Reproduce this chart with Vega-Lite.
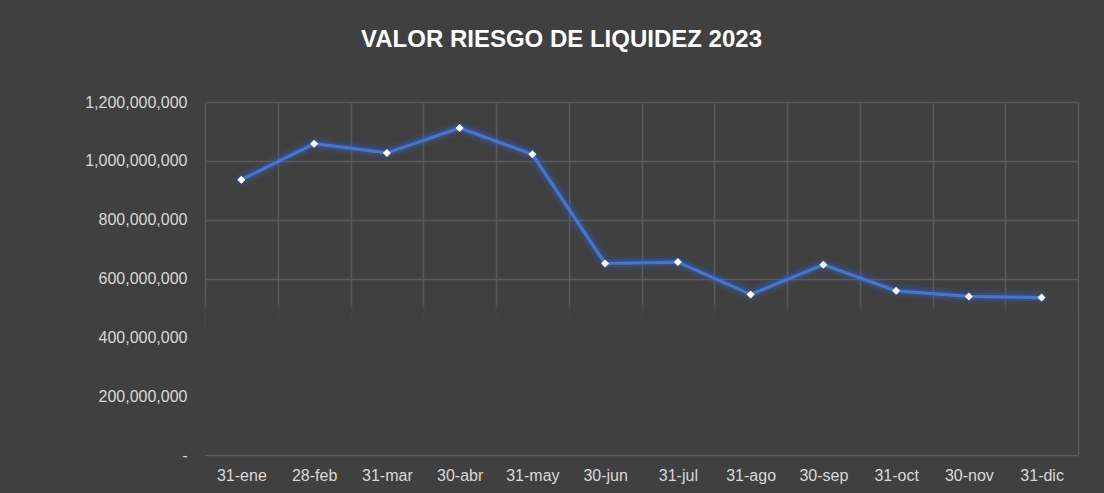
{
  "$schema": "https://vega.github.io/schema/vega-lite/v6.json",
  "autosize": {"type": "none"},
  "width": 873,
  "height": 353,
  "padding": {"left": 205, "top": 102, "right": 26, "bottom": 38},
  "background": "#404040",
  "view": {"stroke": null},
  "config": {
    "font": "Liberation Sans",
    "axis": {"labelFont": "Liberation Sans", "labelColor": "#d9d9d9", "labelFontSize": 16, "domain": false, "ticks": false, "title": null, "gridColor": "#5a5a5a", "gridWidth": 1.5}
  },
  "title": {
    "text": "VALOR RIESGO DE LIQUIDEZ 2023",
    "font": "Liberation Sans",
    "fontSize": 24,
    "fontWeight": "bold",
    "color": "#ffffff",
    "anchor": "middle",
    "frame": "group",
    "baseline": "alphabetic",
    "offset": 23,
    "dx": -80
  },
  "data": {
    "values": [
      {"fecha": "31-ene", "valor": 936000000},
      {"fecha": "28-feb", "valor": 1058000000},
      {"fecha": "31-mar", "valor": 1027000000},
      {"fecha": "30-abr", "valor": 1112000000},
      {"fecha": "31-may", "valor": 1022000000},
      {"fecha": "30-jun", "valor": 651000000},
      {"fecha": "31-jul", "valor": 656000000},
      {"fecha": "31-ago", "valor": 546000000},
      {"fecha": "30-sep", "valor": 647000000},
      {"fecha": "31-oct", "valor": 558000000},
      {"fecha": "30-nov", "valor": 539000000},
      {"fecha": "31-dic", "valor": 535000000}
    ]
  },
  "encoding": {
    "x": {
      "field": "fecha", "type": "ordinal", "sort": null,
      "scale": {"type": "band", "paddingInner": 0, "paddingOuter": 0},
      "axis": {"labelAngle": 0, "labelPadding": 12, "grid": true, "tickBand": "extent"}
    },
    "y": {
      "field": "valor", "type": "quantitative",
      "scale": {"domain": [0, 1200000000], "nice": false},
      "axis": {"values": [0, 200000000, 400000000, 600000000, 800000000, 1000000000, 1200000000], "labelPadding": 18, "labelExpr": "datum.value == 0 ? '-\u00a0\u00a0' : format(datum.value, ',')"}
    }
  },
  "layer": [
    {
      "mark": {"type": "rect", "fill": {"gradient": "linear", "x1": 0, "y1": 0, "x2": 0, "y2": 1, "stops": [{"offset": 0, "color": "rgba(64,64,64,0)"}, {"offset": 0.23, "color": "rgba(64,64,64,0.55)"}, {"offset": 0.6, "color": "rgba(64,64,64,0.8)"}, {"offset": 0.9, "color": "rgba(64,64,64,0.92)"}, {"offset": 1, "color": "rgba(64,64,64,1)"}]}},
      "encoding": {"x": null, "y": {"datum": 520000000, "type": "quantitative"}, "y2": {"datum": 0}}
    },
    {"mark": {"type": "line", "color": "#2d62d8", "strokeWidth": 14, "opacity": 0.12, "strokeJoin": "round", "strokeCap": "round"}},
    {"mark": {"type": "line", "color": "#3468dc", "strokeWidth": 8, "opacity": 0.22, "strokeJoin": "round", "strokeCap": "round"}},
    {"mark": {"type": "line", "color": "#4774cc", "strokeWidth": 3.2}},
    {"mark": {"type": "point", "shape": "diamond", "filled": true, "color": "#ffffff", "size": 64, "opacity": 1}}
  ]
}
